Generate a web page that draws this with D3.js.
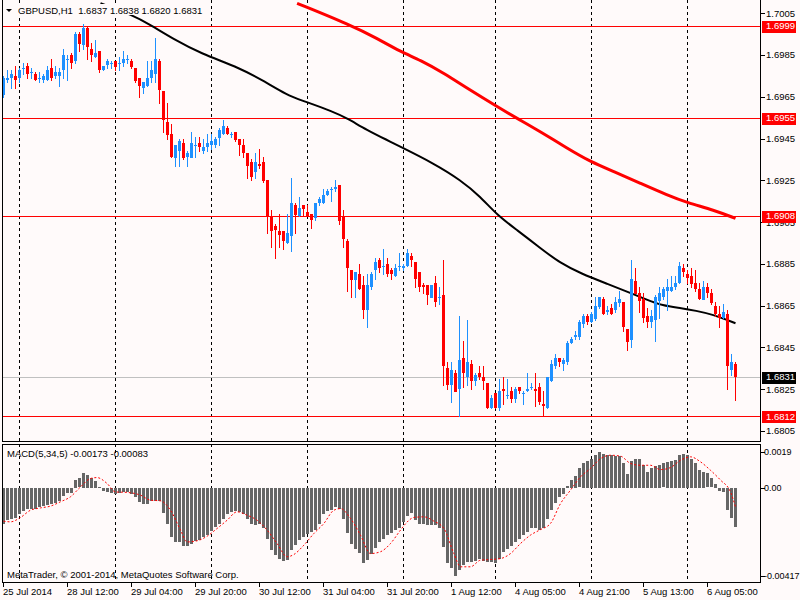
<!DOCTYPE html>
<html>
<head>
<meta charset="utf-8">
<script src="https://cdn.jsdelivr.net/npm/d3@7"></script>
<style>
  body { margin: 0; background: #fffafa; }
  svg { display: block; }
  text { font-family: 'Liberation Sans', Arial, sans-serif; font-size: 9.5px; fill: #000; }
</style>
</head>
<body>
<div id="chart"></div>
<script>
// ---- data ----
var opens = [1.6966,1.6973,1.6974,1.6975,1.6974,1.6979,1.6980,1.6977,1.6976,1.6974,1.6973,1.6973,1.6979,1.6975,1.6975,1.6978,1.6983,1.6985,1.6982,1.6995,
  1.6990,1.6998,1.6988,1.6984,1.6987,1.6978,1.6980,1.6981,1.6982,1.6981,1.6981,1.6983,1.6982,1.6979,1.6974,1.6969,1.6970,1.6974,1.6976,1.6982,
  1.6968,1.6953,1.6947,1.6936,1.6939,1.6943,1.6936,1.6936,1.6942,1.6943,1.6939,1.6941,1.6942,1.6942,1.6945,1.6947,1.6950,1.6947,1.6948,1.6945,
  1.6942,1.6938,1.6934,1.6929,1.6933,1.6934,1.6925,1.6908,1.6903,1.6901,1.6901,1.6895,1.6898,1.6913,1.6908,1.6913,1.6910,1.6909,1.6907,1.6914,
  1.6914,1.6918,1.6921,1.6921,1.6923,1.6908,1.6896,1.6882,1.6877,1.6880,1.6875,1.6863,1.6874,1.6882,1.6887,1.6884,1.6885,1.6882,1.6879,1.6884,
  1.6883,1.6884,1.6889,1.6886,1.6881,1.6875,1.6875,1.6869,1.6876,1.6869,1.6870,1.6835,1.6827,1.6833,1.6825,1.6840,1.6831,1.6837,1.6829,1.6833,
  1.6831,1.6828,1.6816,1.6823,1.6816,1.6825,1.6822,1.6824,1.6820,1.6826,1.6823,1.6824,1.6826,1.6825,1.6826,1.6818,1.6816,1.6829,1.6836,1.6840,
  1.6837,1.6838,1.6847,1.6850,1.6850,1.6856,1.6860,1.6857,1.6859,1.6864,1.6868,1.6862,1.6864,1.6863,1.6866,1.6867,1.6854,1.6849,1.6877,1.6871,
  1.6868,1.6860,1.6857,1.6858,1.6867,1.6869,1.6872,1.6872,1.6874,1.6876,1.6883,1.6880,1.6879,1.6876,1.6873,1.6868,1.6874,1.6871,1.6865,1.6861,
  1.6859,1.6861,1.6834,1.6837];
var highs = [1.6975,1.6978,1.6978,1.6980,1.6979,1.6981,1.6981,1.6979,1.6977,1.6977,1.6976,1.6980,1.6983,1.6980,1.6979,1.6988,1.6985,1.6986,1.6996,1.6996,
  1.7000,1.6999,1.6991,1.6992,1.6987,1.6980,1.6983,1.6982,1.6982,1.6984,1.6987,1.6985,1.6983,1.6979,1.6974,1.6972,1.6982,1.6982,1.6993,1.6983,
  1.6968,1.6962,1.6952,1.6942,1.6945,1.6945,1.6939,1.6948,1.6946,1.6946,1.6945,1.6947,1.6947,1.6946,1.6950,1.6954,1.6951,1.6948,1.6948,1.6945,
  1.6945,1.6938,1.6935,1.6938,1.6940,1.6936,1.6925,1.6911,1.6904,1.6909,1.6901,1.6909,1.6926,1.6914,1.6917,1.6913,1.6913,1.6909,1.6914,1.6917,
  1.6921,1.6921,1.6922,1.6925,1.6923,1.6911,1.6897,1.6882,1.6881,1.6885,1.6879,1.6880,1.6881,1.6888,1.6888,1.6892,1.6888,1.6883,1.6885,1.6890,
  1.6885,1.6892,1.6890,1.6886,1.6881,1.6876,1.6875,1.6875,1.6879,1.6874,1.6887,1.6838,1.6838,1.6834,1.6860,1.6848,1.6858,1.6839,1.6833,1.6836,
  1.6836,1.6828,1.6822,1.6823,1.6830,1.6831,1.6830,1.6826,1.6826,1.6826,1.6824,1.6833,1.6828,1.6833,1.6828,1.6824,1.6831,1.6839,1.6842,1.6840,
  1.6840,1.6848,1.6850,1.6853,1.6858,1.6861,1.6861,1.6862,1.6869,1.6869,1.6869,1.6865,1.6866,1.6869,1.6872,1.6867,1.6854,1.6887,1.6883,1.6874,
  1.6871,1.6864,1.6863,1.6870,1.6874,1.6874,1.6878,1.6879,1.6879,1.6886,1.6885,1.6882,1.6883,1.6882,1.6876,1.6877,1.6876,1.6873,1.6867,1.6865,
  1.6866,1.6863,1.6842,1.6838];
var lows = [1.6965,1.6972,1.6969,1.6969,1.6972,1.6976,1.6974,1.6974,1.6973,1.6972,1.6972,1.6973,1.6973,1.6974,1.6970,1.6974,1.6973,1.6979,1.6981,1.6987,
  1.6988,1.6983,1.6982,1.6984,1.6977,1.6978,1.6979,1.6979,1.6978,1.6978,1.6980,1.6981,1.6979,1.6972,1.6965,1.6967,1.6970,1.6972,1.6972,1.6962,
  1.6948,1.6945,1.6936,1.6932,1.6932,1.6935,1.6932,1.6936,1.6936,1.6939,1.6938,1.6939,1.6940,1.6941,1.6942,1.6947,1.6947,1.6946,1.6944,1.6937,
  1.6936,1.6926,1.6925,1.6926,1.6931,1.6924,1.6900,1.6893,1.6888,1.6893,1.6892,1.6895,1.6891,1.6900,1.6908,1.6908,1.6908,1.6902,1.6906,1.6913,
  1.6914,1.6918,1.6915,1.6920,1.6904,1.6893,1.6872,1.6869,1.6869,1.6873,1.6859,1.6855,1.6873,1.6878,1.6881,1.6880,1.6879,1.6878,1.6879,1.6882,
  1.6882,1.6884,1.6884,1.6874,1.6872,1.6871,1.6866,1.6869,1.6865,1.6866,1.6827,1.6825,1.6819,1.6824,1.6812,1.6826,1.6827,1.6825,1.6827,1.6830,
  1.6825,1.6816,1.6816,1.6816,1.6815,1.6818,1.6821,1.6819,1.6819,1.6823,1.6818,1.6824,1.6825,1.6817,1.6818,1.6812,1.6816,1.6829,1.6835,1.6836,
  1.6834,1.6837,1.6847,1.6849,1.6849,1.6855,1.6856,1.6857,1.6858,1.6864,1.6861,1.6861,1.6861,1.6862,1.6865,1.6853,1.6844,1.6845,1.6871,1.6862,
  1.6857,1.6855,1.6855,1.6848,1.6859,1.6868,1.6863,1.6872,1.6873,1.6876,1.6879,1.6876,1.6874,1.6872,1.6868,1.6868,1.6869,1.6866,1.6860,1.6855,
  1.6859,1.6825,1.6832,1.6820];
var closes = [1.6974,1.6974,1.6976,1.6973,1.6978,1.6979,1.6976,1.6977,1.6973,1.6974,1.6975,1.6978,1.6974,1.6977,1.6977,1.6985,1.6983,1.6981,1.6995,1.6990,
  1.6998,1.6989,1.6985,1.6986,1.6978,1.6980,1.6982,1.6981,1.6979,1.6981,1.6983,1.6983,1.6979,1.6973,1.6970,1.6972,1.6974,1.6978,1.6983,1.6968,
  1.6954,1.6947,1.6936,1.6942,1.6944,1.6936,1.6938,1.6943,1.6942,1.6941,1.6941,1.6943,1.6944,1.6945,1.6949,1.6951,1.6947,1.6947,1.6944,1.6942,
  1.6938,1.6932,1.6927,1.6934,1.6932,1.6925,1.6908,1.6901,1.6901,1.6899,1.6896,1.6900,1.6914,1.6908,1.6912,1.6911,1.6908,1.6906,1.6914,1.6916,
  1.6918,1.6920,1.6921,1.6922,1.6906,1.6897,1.6883,1.6877,1.6881,1.6873,1.6863,1.6875,1.6880,1.6886,1.6883,1.6884,1.6880,1.6880,1.6883,1.6884,
  1.6884,1.6890,1.6887,1.6878,1.6874,1.6874,1.6870,1.6875,1.6867,1.6869,1.6836,1.6827,1.6834,1.6824,1.6839,1.6833,1.6838,1.6829,1.6832,1.6831,
  1.6829,1.6816,1.6821,1.6816,1.6824,1.6824,1.6822,1.6820,1.6825,1.6824,1.6823,1.6825,1.6826,1.6824,1.6819,1.6817,1.6831,1.6837,1.6840,1.6838,
  1.6839,1.6847,1.6849,1.6851,1.6857,1.6860,1.6857,1.6861,1.6865,1.6869,1.6861,1.6863,1.6861,1.6867,1.6868,1.6855,1.6848,1.6878,1.6871,1.6867,
  1.6859,1.6857,1.6860,1.6869,1.6871,1.6873,1.6874,1.6874,1.6876,1.6884,1.6881,1.6878,1.6875,1.6873,1.6868,1.6874,1.6871,1.6866,1.6861,1.6859,
  1.6862,1.6836,1.6838,1.6831];

// moving averages, read as [bar, price] points along the drawn curves
var maBlack = [[24.25,1.70098],[32.2,1.70042],[36.75,1.69994],[42.5,1.69926],[49.25,1.69858],[59.25,1.69787],[65.4,1.69722],[70.9,1.69659],
  [74.25,1.69635],[82.5,1.69579],[85.9,1.69547],[90.9,1.69491],[95.9,1.69443],[99.25,1.69411],[107.5,1.69332],[114.25,1.69252],[119.25,1.69172],
  [123.4,1.69084],[128.4,1.69012],[134.25,1.68925],[139.25,1.68853],[144.25,1.68805],[151.3,1.68752],[156.3,1.68714],[160.5,1.68681],
  [164.7,1.6865],[169.7,1.68638],[173,1.68626],[177.2,1.68609],[183,1.68566]];
var maRed = [[73.4,1.70098],[86.75,1.69994],[93.4,1.6993],[99.25,1.69866],[104.25,1.69826],[110.1,1.69763],[115.9,1.69691],[123.4,1.69603],
  [128.4,1.69547],[134.25,1.69483],[140.9,1.69404],[146.75,1.69339],[152.6,1.69292],[159.25,1.69236],[165.9,1.6918],[170.9,1.69143],
  [177.6,1.69108],[183,1.69068]];

var macdHist = [-0.00156,-0.00142,-0.00137,-0.00130,-0.00115,-0.00102,-0.00093,-0.00091,-0.00091,-0.00083,-0.00077,-0.00073,-0.00072,-0.00064,-0.00057,-0.00035,-0.00020,-0.00020,0.00034,0.00041,
  0.00064,0.00058,0.00044,0.00029,0.00004,-0.00013,-0.00018,-0.00022,-0.00026,-0.00022,-0.00019,-0.00016,-0.00025,-0.00039,-0.00061,-0.00070,-0.00070,-0.00058,-0.00057,-0.00058,
  -0.00110,-0.00156,-0.00215,-0.00237,-0.00237,-0.00254,-0.00254,-0.00247,-0.00234,-0.00226,-0.00215,-0.00204,-0.00190,-0.00171,-0.00156,-0.00134,-0.00115,-0.00105,-0.00102,-0.00105,
  -0.00112,-0.00134,-0.00159,-0.00161,-0.00159,-0.00174,-0.00225,-0.00273,-0.00295,-0.00310,-0.00320,-0.00314,-0.00270,-0.00251,-0.00229,-0.00215,-0.00200,-0.00193,-0.00185,-0.00156,
  -0.00115,-0.00102,-0.00095,-0.00083,-0.00091,-0.00137,-0.00196,-0.00247,-0.00266,-0.00285,-0.00329,-0.00314,-0.00288,-0.00261,-0.00237,-0.00222,-0.00207,-0.00196,-0.00185,-0.00175,
  -0.00149,-0.00124,-0.00110,-0.00142,-0.00156,-0.00159,-0.00164,-0.00161,-0.00164,-0.00174,-0.00258,-0.00327,-0.00350,-0.00385,-0.00358,-0.00339,-0.00324,-0.00324,-0.00320,-0.00312,
  -0.00320,-0.00324,-0.00324,-0.00329,-0.00310,-0.00280,-0.00266,-0.00256,-0.00237,-0.00222,-0.00207,-0.00193,-0.00175,-0.00174,-0.00183,-0.00175,-0.00137,-0.00098,-0.00066,-0.00039,
  -0.00025,0.00009,0.00034,0.00053,0.00085,0.00110,0.00118,0.00126,0.00143,0.00158,0.00147,0.00143,0.00143,0.00140,0.00140,0.00111,0.00060,0.00118,0.00126,0.00126,
  0.00099,0.00070,0.00089,0.00095,0.00102,0.00107,0.00114,0.00118,0.00124,0.00146,0.00147,0.00143,0.00126,0.00111,0.00080,0.00070,0.00063,0.00041,0.00019,-0.00015,
  -0.00018,-0.00095,-0.00131,-0.00173];
var macdSignal = [[0,-0.00146],[1.75,-0.00149],[4.25,-0.0013],[6.75,-0.00098],[9.25,-0.00088],[11.75,-0.0008],[14.25,-0.00061],[16.75,-0.00039],
  [19.25,0.00004],[21.75,0.00041],[23.4,0.00045],[25.9,0.00019],[28,-0.00018],[30.9,-0.0002],[34.25,-0.00032],[36.75,-0.00054],[39.25,-0.00057],
  [41.75,-0.00098],[44.25,-0.00185],[45.9,-0.00237],[48.4,-0.00232],[50.9,-0.00212],[53.4,-0.00178],[55.9,-0.00142],[58.4,-0.00105],[60.9,-0.0012],
  [63.4,-0.00142],[65.9,-0.00185],[68.4,-0.00244],[70.9,-0.00302],[72.6,-0.00292],[75.1,-0.00251],[77.6,-0.002],[80.1,-0.00156],[82.6,-0.00098],
  [84.25,-0.00091],[86.75,-0.00134],[89.25,-0.00207],[91.75,-0.00288],[94.25,-0.0028],[96.75,-0.00244],[99.25,-0.00185],[100,-0.00168],
  [102.6,-0.0013],[105.1,-0.00127],[107.6,-0.00146],[110.1,-0.00178],[112.6,-0.00288],[114.25,-0.00346],[116.75,-0.00346],[119.25,-0.00317],
  [121.75,-0.00314],[124.25,-0.0031],[126.75,-0.00288],[129.25,-0.00244],[131.75,-0.00207],[134.25,-0.00183],[136.75,-0.00156],[139.25,-0.00069],
  [141.75,-0.0001],[144.25,0.00048],[146.75,0.00085],[149.25,0.00128],[151.75,0.00143],[154.25,0.00139],[156.75,0.00107],[159.25,0.00099],
  [161.75,0.00099],[164.25,0.0008],[166.75,0.00089],[169.25,0.00121],[171.75,0.00136],[174.25,0.00114],[176.75,0.00077],[179.25,0.00034],
  [181.75,-0.00018],[183,-0.00083]];

var levels = [1.6999, 1.6955, 1.6908, 1.6812];
var bidPrice = 1.6831;
var priceTicks = [1.7005, 1.6985, 1.6965, 1.6945, 1.6925, 1.6905, 1.6885, 1.6865, 1.6845, 1.6825, 1.6805];
var macdTicks = [0.0019, 0, -0.00417];
var macdTickLabels = ["0.0019", "0.00", "-0.00417"];
var timeTickBars = [0, 16, 32, 48, 64, 80, 96, 112, 128, 144, 160, 176];
var timeTickLabels = ["25 Jul 2014", "28 Jul 12:00", "29 Jul 04:00", "29 Jul 20:00", "30 Jul 12:00", "31 Jul 04:00",
  "31 Jul 20:00", "1 Aug 12:00", "4 Aug 05:00", "4 Aug 21:00", "5 Aug 13:00", "6 Aug 05:00"];
var daySeparatorBars = [4, 28, 52, 76, 100, 123, 147, 171];
var headerText = "GBPUSD,H1  1.6837 1.6838 1.6820 1.6831";
var macdText = "MACD(5,34,5) -0.00173 -0.00083";

// ---- layout ----
var W = 800, H = 600;
var plotRight = 760.5;
var mainBottom = 441.5, macdTop = 444.5, macdBottom = 582.5;
var bull = "#1e90ff", bear = "#ff0000", bg = "#fffafa";

var svg = d3.select("#chart").append("svg").attr("width", W).attr("height", H);
svg.append("rect").attr("width", W).attr("height", H).attr("fill", bg);

var x = d3.scaleLinear().domain([0, 183]).range([3.5, 735.5]);
var y = d3.scaleLinear().domain([1.6805, 1.7005]).range([431, 13.3]);
var yM = d3.scaleLinear().domain([-0.00417, 0.0019]).range([583, 444.5]);

var defs = svg.append("defs");
defs.append("clipPath").attr("id", "clipMain").append("rect")
  .attr("x", 3).attr("y", 0).attr("width", plotRight - 3).attr("height", mainBottom);
defs.append("clipPath").attr("id", "clipMacd").append("rect")
  .attr("x", 3).attr("y", macdTop + 0.5).attr("width", plotRight - 3).attr("height", macdBottom - macdTop - 1);

// day separators (dashed, run through both panels)
svg.append("g").selectAll("line").data(daySeparatorBars).enter().append("line")
  .attr("x1", function (d) { return x(d); }).attr("x2", function (d) { return x(d); })
  .attr("y1", 0).attr("y2", macdBottom)
  .attr("stroke", "#000").attr("stroke-dasharray", "3,3").attr("shape-rendering", "crispEdges");

var main = svg.append("g").attr("clip-path", "url(#clipMain)");

// horizontal levels and bid line
main.selectAll(".level").data(levels).enter().append("line")
  .attr("class", "level")
  .attr("x1", 3).attr("x2", plotRight)
  .attr("y1", function (d) { return Math.round(y(d)) + 0.5; })
  .attr("y2", function (d) { return Math.round(y(d)) + 0.5; })
  .attr("stroke", "#ff0000").attr("shape-rendering", "crispEdges");
main.append("line")
  .attr("x1", 3).attr("x2", plotRight)
  .attr("y1", Math.round(y(bidPrice)) + 0.5).attr("y2", Math.round(y(bidPrice)) + 0.5)
  .attr("stroke", "#c0c0c0").attr("shape-rendering", "crispEdges");

// moving averages (smoothed through the read points)
var maLine = d3.line()
  .x(function (d) { return x(d[0]); })
  .y(function (d) { return y(d[1]); })
  .curve(d3.curveBasis);
main.append("path").datum(maRed).attr("d", maLine)
  .attr("fill", "none").attr("stroke", "#ff0000").attr("stroke-width", 3);
main.append("path").datum(maBlack).attr("d", maLine)
  .attr("fill", "none").attr("stroke", "#000").attr("stroke-width", 2);

// candles
var bars = d3.range(opens.length).map(function (i) {
  return { i: i, o: opens[i], h: highs[i], l: lows[i], c: closes[i] };
});
var candle = main.append("g").selectAll("g").data(bars).enter().append("g")
  .attr("shape-rendering", "crispEdges");
candle.append("line")
  .attr("x1", function (d) { return x(d.i); }).attr("x2", function (d) { return x(d.i); })
  .attr("y1", function (d) { return Math.round(y(d.h)); })
  .attr("y2", function (d) { return Math.round(y(d.l)) + 1; })
  .attr("stroke", function (d) { return d.c >= d.o ? bull : bear; });
candle.append("rect")
  .attr("x", function (d) { return x(d.i) - 1.5; })
  .attr("width", 3)
  .attr("y", function (d) { return Math.round(y(Math.max(d.o, d.c))); })
  .attr("height", function (d) { return Math.max(1, Math.round(Math.abs(y(d.o) - y(d.c)))); })
  .attr("fill", function (d) { return d.c >= d.o ? bull : bear; });

// header (drawn with background, hides the MA behind it)
svg.append("rect").attr("x", 4).attr("y", 4).attr("width", 197).attr("height", 11).attr("fill", bg);
svg.append("polygon").attr("points", "6,9 12,9 9,12").attr("fill", "#000");
svg.append("text").attr("x", 18).attr("y", 14).attr("xml:space", "preserve").text(headerText);

// panel frames
svg.append("path")
  .attr("d", "M2.5,0V" + mainBottom + "H" + plotRight + "V0")
  .attr("fill", "none").attr("stroke", "#000").attr("shape-rendering", "crispEdges");
svg.append("rect")
  .attr("x", 2.5).attr("y", macdTop).attr("width", plotRight - 2.5).attr("height", macdBottom - macdTop)
  .attr("fill", "none").attr("stroke", "#000").attr("shape-rendering", "crispEdges");

// price axis
var pAxis = svg.append("g");
pAxis.selectAll("line").data(priceTicks).enter().append("line")
  .attr("x1", plotRight).attr("x2", plotRight + 4)
  .attr("y1", function (d) { return Math.round(y(d)) + 0.5; })
  .attr("y2", function (d) { return Math.round(y(d)) + 0.5; })
  .attr("stroke", "#000").attr("shape-rendering", "crispEdges");
pAxis.selectAll("text").data(priceTicks).enter().append("text")
  .attr("x", 766).attr("y", function (d) { return y(d) + 3.4; })
  .text(function (d) { return d.toFixed(4); });

// level price boxes
var boxes = levels.map(function (v) { return { v: v, fill: "#ff0000" }; });
boxes.push({ v: bidPrice, fill: "#000" });
var box = svg.append("g").selectAll("g").data(boxes).enter().append("g");
box.append("rect")
  .attr("x", 761.5).attr("width", 34)
  .attr("y", function (d) { return Math.round(y(d.v)) - 5.5; }).attr("height", 12)
  .attr("fill", function (d) { return d.fill; }).attr("shape-rendering", "crispEdges");
box.append("text")
  .attr("x", 766).attr("y", function (d) { return y(d.v) + 3.4; })
  .style("fill", "#fff")
  .text(function (d) { return d.v.toFixed(4); });

// MACD panel
var macd = svg.append("g").attr("clip-path", "url(#clipMacd)");
macd.selectAll("rect").data(macdHist).enter().append("rect")
  .attr("x", function (d, i) { return x(i) - 1.5; })
  .attr("width", 3)
  .attr("y", function (d) { return Math.round(Math.min(yM(d), yM(0))); })
  .attr("height", function (d) { return Math.max(1, Math.round(Math.abs(yM(d) - yM(0)))); })
  .attr("fill", "#666666").attr("shape-rendering", "crispEdges");
macd.append("path").datum(macdSignal)
  .attr("d", d3.line().x(function (d) { return x(d[0]); }).y(function (d) { return yM(d[1]); }).curve(d3.curveMonotoneX))
  .attr("fill", "none").attr("stroke", "#ff0000").attr("stroke-width", 1).attr("stroke-dasharray", "2,2");

svg.append("text").attr("x", 7).attr("y", 457).text(macdText);
svg.append("text").attr("x", 7).attr("y", 578).text("MetaTrader, \u00a9 2001-2014, MetaQuotes Software Corp.");

function macdLabelY(v) {
  return Math.max(macdTop + 7, Math.min(macdBottom - 7, yM(v)));
}
var mAxis = svg.append("g");
mAxis.selectAll("line").data(macdTicks).enter().append("line")
  .attr("x1", plotRight).attr("x2", plotRight + 4)
  .attr("y1", function (d) { return Math.round(macdLabelY(d)) + 0.5; })
  .attr("y2", function (d) { return Math.round(macdLabelY(d)) + 0.5; })
  .attr("stroke", "#000").attr("shape-rendering", "crispEdges");
mAxis.selectAll("text").data(macdTicks).enter().append("text")
  .attr("x", 764).attr("y", function (d) { return macdLabelY(d) + 3.3; })
  .style("font-size", "9px")
  .text(function (d, i) { return macdTickLabels[i]; });

// time axis
var tAxis = svg.append("g");
tAxis.selectAll("line").data(timeTickBars).enter().append("line")
  .attr("x1", function (d) { return x(d) - 0.5; }).attr("x2", function (d) { return x(d) - 0.5; })
  .attr("y1", macdBottom).attr("y2", macdBottom + 4)
  .attr("stroke", "#000").attr("shape-rendering", "crispEdges");
tAxis.selectAll("text").data(timeTickBars).enter().append("text")
  .attr("x", function (d) { return x(d) - 0.5; }).attr("y", 595)
  .text(function (d, i) { return timeTickLabels[i]; });
</script>
</body>
</html>
